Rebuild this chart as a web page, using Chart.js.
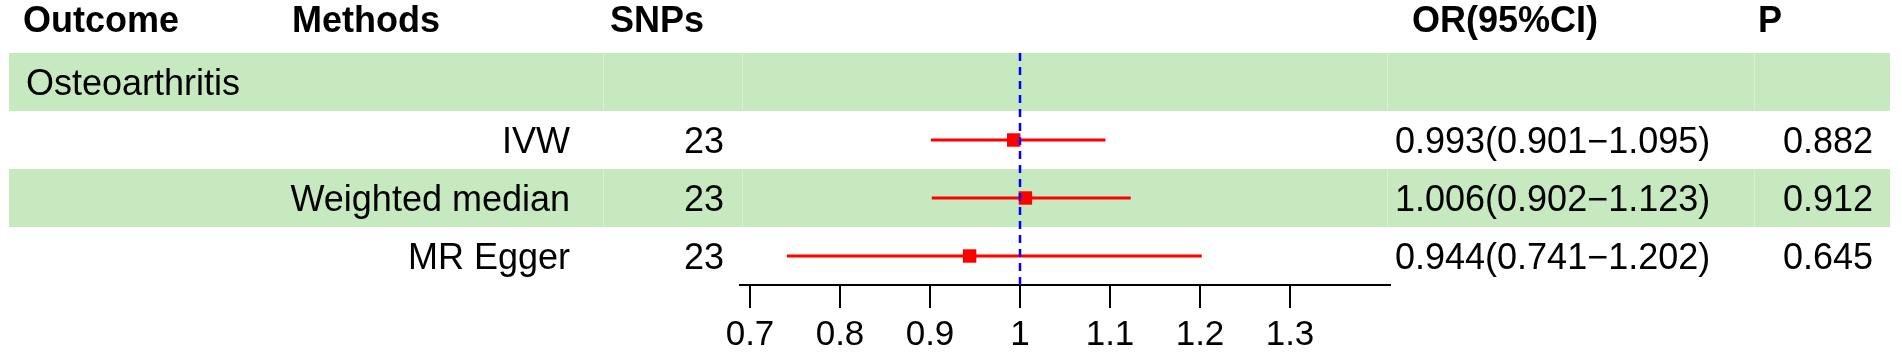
<!DOCTYPE html>
<html>
<head>
<meta charset="utf-8">
<script src="https://cdn.jsdelivr.net/npm/chart.js@4/dist/chart.umd.min.js"></script>
<style>
    body { margin: 0; background: #ffffff; }
    #forest { display: block; }
</style>
</head>
<body>
<canvas id="forest" width="1902" height="353"></canvas>
<script>
// Dati ---------------------------------------------------
const intestazioni = ['Outcome', 'Methods', 'SNPs', 'OR(95%CI)', 'P'];
const esito = 'Osteoarthritis';
const metodi = ['IVW', 'Weighted median', 'MR Egger'];
const snps = [23, 23, 23];
const orValori = [0.993, 1.006, 0.944];
const ciInf = [0.901, 0.902, 0.741];
const ciSup = [1.095, 1.123, 1.202];
const pValori = ['0.882', '0.912', '0.645'];
const tickX = [0.7, 0.8, 0.9, 1, 1.1, 1.2, 1.3];
const lineaRif = 1;
const xMin = 0.6889;
const xMax = 1.4111;

// colonne del testo (pixel orizzontali)
const colonne = {
    outcome: 26,
    metodiDx: 570,
    snpsDx: 724,
    orSx: 1395,
    pDx: 1873
};
const xHeader = [23, 292, 610, 1412, 1758];
const verde = '#c7e9c0';
const font = "'Liberation Sans', Arial, sans-serif";

function testoOR(i) {
    return orValori[i].toFixed(3) + '(' + ciInf[i].toFixed(3) + '\u2212' + ciSup[i].toFixed(3) + ')';
}

// Sfondo a bande + testo della tabella
const pluginTabella = {
    id: 'tabella',
    beforeDatasetsDraw(chart) {
        const ctx = chart.ctx;
        const y = chart.scales.y;
        ctx.save();
        // righe verdi: 0 (esito) e 2 (weighted median)
        [0, 2].forEach(r => {
            const top = y.getPixelForValue(r - 0.5);
            const bot = y.getPixelForValue(r + 0.5);
            ctx.fillStyle = verde;
            ctx.fillRect(9, top, 1890 - 9, bot - top);
            // bordi delle celle appena visibili
            ctx.fillStyle = 'rgba(255,255,255,0.35)';
            [603, 742, 1387, 1754].forEach(cx => ctx.fillRect(cx, top, 1, bot - top));
        });
        ctx.restore();
    },
    afterDatasetsDraw(chart) {
        const ctx = chart.ctx;
        const y = chart.scales.y;
        ctx.save();
        ctx.fillStyle = '#000000';
        ctx.textBaseline = 'alphabetic';

        // intestazione
        ctx.font = 'bold 36px ' + font;
        ctx.textAlign = 'left';
        const yHead = y.getPixelForValue(-1) + 8;
        intestazioni.forEach((t, i) => ctx.fillText(t, xHeader[i], yHead));

        ctx.font = '36px ' + font;
        // riga esito
        ctx.fillText(esito, colonne.outcome, y.getPixelForValue(0) + 13);

        // righe dei metodi
        metodi.forEach((m, i) => {
            const yy = y.getPixelForValue(i + 1) + 13;
            ctx.textAlign = 'right';
            ctx.fillText(m, colonne.metodiDx, yy);
            ctx.fillText(String(snps[i]), colonne.snpsDx, yy);
            ctx.textAlign = 'left';
            ctx.fillText(testoOR(i), colonne.orSx, yy);
            ctx.textAlign = 'right';
            ctx.fillText(pValori[i], colonne.pDx, yy);
        });
        ctx.restore();
    }
};

const datasets = [];
// linea di riferimento tratteggiata (sopra tutto)
datasets.push({
    type: 'line',
    data: [{ x: lineaRif, y: -0.5 }, { x: lineaRif, y: 3.5 }],
    borderColor: '#0000ff',
    borderWidth: 2.5,
    borderDash: [8, 6],
    pointRadius: 0,
    order: 0
});
// quadrati OR
datasets.push({
    type: 'scatter',
    data: orValori.map((v, i) => ({ x: v, y: i + 1 })),
    pointStyle: 'rect',
    pointRadius: 9.5,
    pointBackgroundColor: '#ff0000',
    pointBorderWidth: 0,
    order: 1
});
// intervalli di confidenza
for (let i = 0; i < metodi.length; i++) {
    datasets.push({
        type: 'line',
        data: [{ x: ciInf[i], y: i + 1 }, { x: ciSup[i], y: i + 1 }],
        borderColor: '#ff0000',
        borderWidth: 3,
        pointRadius: 0,
        order: 2
    });
}

const ctxForest = document.getElementById('forest').getContext('2d');
const graficoForest = new Chart(ctxForest, {
    type: 'scatter',
    data: { datasets: datasets },
    options: {
        responsive: false,
        animation: false,
        devicePixelRatio: 1,
        layout: {
            padding: { left: 740, right: 512, top: 53, bottom: 0 }
        },
        plugins: {
            legend: { display: false },
            tooltip: { enabled: false }
        },
        scales: {
            x: {
                type: 'linear',
                min: xMin,
                max: xMax,
                afterBuildTicks: (scale) => {
                    scale.ticks = tickX.map(v => ({ value: v }));
                },
                afterFit: (scale) => {
                    scale.height = 68;
                },
                border: { display: true, color: '#000000', width: 2 },
                grid: {
                    drawOnChartArea: false,
                    drawTicks: true,
                    tickLength: 23,
                    color: '#000000',
                    lineWidth: 2
                },
                ticks: {
                    color: '#000000',
                    padding: 6,
                    maxRotation: 0,
                    autoSkip: false,
                    font: { family: font, size: 35 },
                    callback: function (value) {
                        return String(Math.round(value * 10) / 10);
                    }
                }
            },
            y: {
                type: 'linear',
                reverse: true,
                min: -0.5,
                max: 3.5,
                display: false
            }
        }
    },
    plugins: [pluginTabella]
});
</script>
</body>
</html>
